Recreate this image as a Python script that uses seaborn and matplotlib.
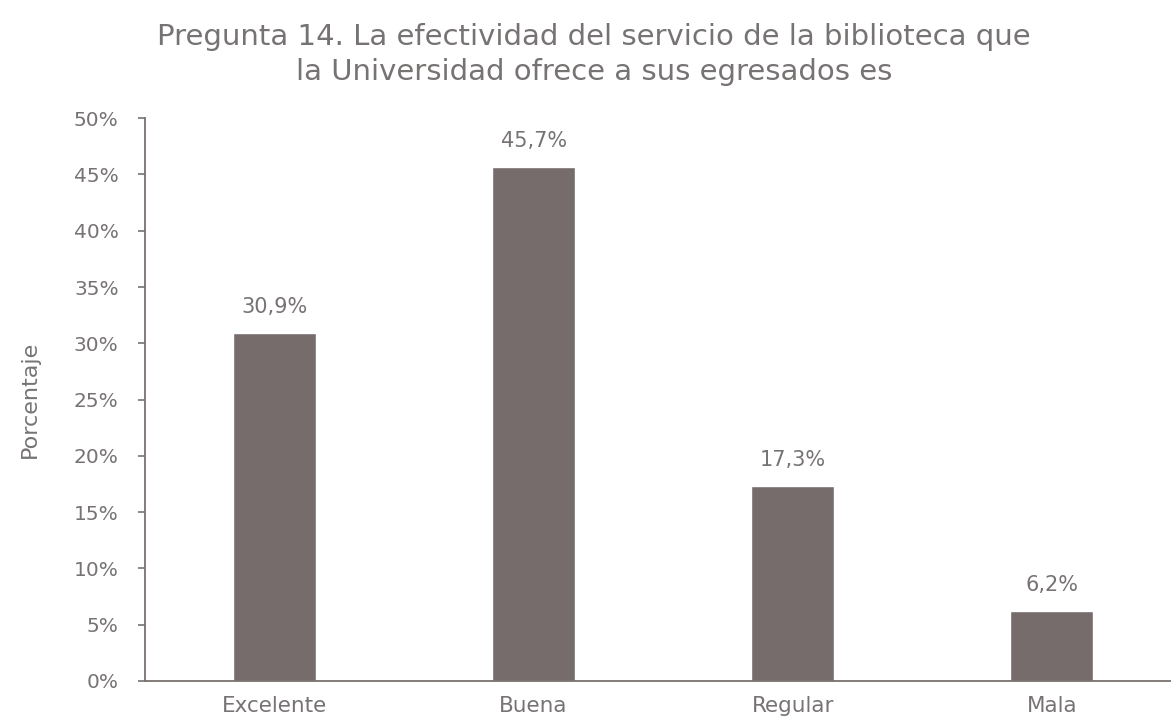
import matplotlib
matplotlib.use("Agg")
import matplotlib.pyplot as plt
import seaborn as sns
import pandas as pd

categorias = ["Excelente", "Buena", "Regular", "Mala"]
porcentajes = [30.9, 45.7, 17.3, 6.2]
etiquetas = ["30,9%", "45,7%", "17,3%", "6,2%"]
ticks_y = [0, 5, 10, 15, 20, 25, 30, 35, 40, 45, 50]

sns.set_theme(style="white")
plt.rcParams["font.family"] = ["DejaVu Sans"]

gris_texto = "#777373"
gris_barra = "#766c6c"

df = pd.DataFrame({"categoria": categorias, "porcentaje": porcentajes})

fig = plt.figure(figsize=(11.71, 7.25), dpi=100)
ax = fig.add_axes([0.1238, 0.0607, 1 - 0.1238, 0.837 - 0.0607])

sns.barplot(data=df, x="categoria", y="porcentaje", color=gris_barra,
            width=0.32, saturation=1, ax=ax)

for i, (v, t) in enumerate(zip(porcentajes, etiquetas)):
    ax.text(i, v + 1.4, t, ha="center", va="bottom", fontsize=15, color=gris_texto)

ax.set_ylim(0, 50)
ax.set_xlim(-0.5, 3.46)
ax.set_yticks(ticks_y)
ax.set_yticklabels([f"{t}%" for t in ticks_y], fontsize=14.5, color=gris_texto)
ax.tick_params(axis="x", labelsize=15.5, labelcolor=gris_texto, length=0, pad=11)
ax.tick_params(axis="y", left=True, length=5, width=1.2, color="#7a7070", pad=14)
ax.set_xlabel("")
ax.set_ylabel("Porcentaje", fontsize=16, color=gris_texto, labelpad=24)

for s in ["top", "right"]:
    ax.spines[s].set_visible(False)
for s in ["left", "bottom"]:
    ax.spines[s].set_color("#7a7070")
    ax.spines[s].set_linewidth(1.3)

fig.text(0.507, 0.968, "Pregunta 14. La efectividad del servicio de la biblioteca que\n"
         "la Universidad ofrece a sus egresados es",
         ha="center", va="top", fontsize=21, color=gris_texto, linespacing=1.3)

fig.savefig("out.png", dpi=100)
